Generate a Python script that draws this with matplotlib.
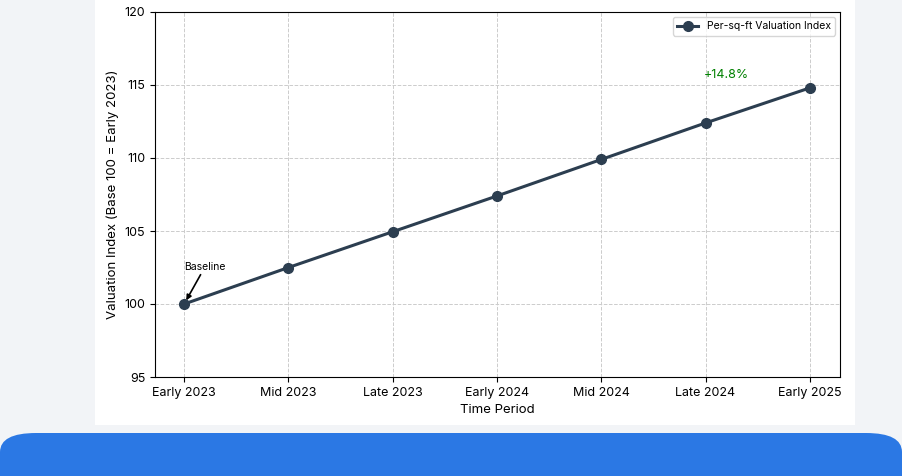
import matplotlib
matplotlib.use("Agg")
from matplotlib import pyplot as plt
from matplotlib.patches import FancyBboxPatch, Rectangle

periods = ["Early 2023", "Mid 2023", "Late 2023", "Early 2024", "Mid 2024", "Late 2024", "Early 2025"]
index_values = [100.0, 102.5, 104.95, 107.4, 109.9, 112.4, 114.8]
growth_label = "+14.8%"

plt.rcParams['font.family'] = ['Inter', 'DejaVu Sans']

fig = plt.figure(figsize=(9.02, 4.76), dpi=100)
fig.patch.set_facecolor('#f2f4f7')

# white card behind the chart and blue footer bar
fig.patches.append(Rectangle((95 / 902, 1 - 425 / 476), 760 / 902, 425 / 476,
                             transform=fig.transFigure, facecolor='white', edgecolor='none', zorder=-2))
fig.patches.append(FancyBboxPatch((0.0, -0.2), 1.0, 1 - 433 / 476 + 0.2,
                                  boxstyle="round,pad=0,rounding_size=0.04",
                                  transform=fig.transFigure, facecolor='#2b78e4', edgecolor='none', zorder=-2))

ax = fig.add_axes([155 / 902, 1 - 377 / 476, 685 / 902, 365 / 476])
ax.set_zorder(1)
x = list(range(len(periods)))
ax.plot(x, index_values, color='#2c3e50', linewidth=2.2, marker='o', markersize=7,
        label='Per-sq-ft Valuation Index')

ax.set_xlim(-0.28, 6.29)
ax.set_ylim(95, 120)
ax.set_xticks(x)
ax.set_xticklabels(periods, fontsize=9)
ax.set_yticks([95, 100, 105, 110, 115, 120])
ax.tick_params(axis='y', labelsize=9)
ax.grid(True, linestyle='--', color='#cccccc', linewidth=0.7)
ax.set_xlabel("Time Period", fontsize=9.5)
ax.set_ylabel("Valuation Index (Base 100 = Early 2023)", fontsize=9.5)

ax.annotate("Baseline", xy=(0, index_values[0]), xytext=(0, 102.2), fontsize=7.5,
            ha='left', va='bottom',
            arrowprops=dict(arrowstyle='-|>', color='black', lw=1.2, shrinkA=0, shrinkB=3))
ax.text(5.2, 115.7, growth_label, color='green', fontsize=9, ha='center', va='center')

ax.legend(loc='upper right', fontsize=7.5, handlelength=2)

fig.savefig("out.png", dpi=100, facecolor=fig.get_facecolor())
